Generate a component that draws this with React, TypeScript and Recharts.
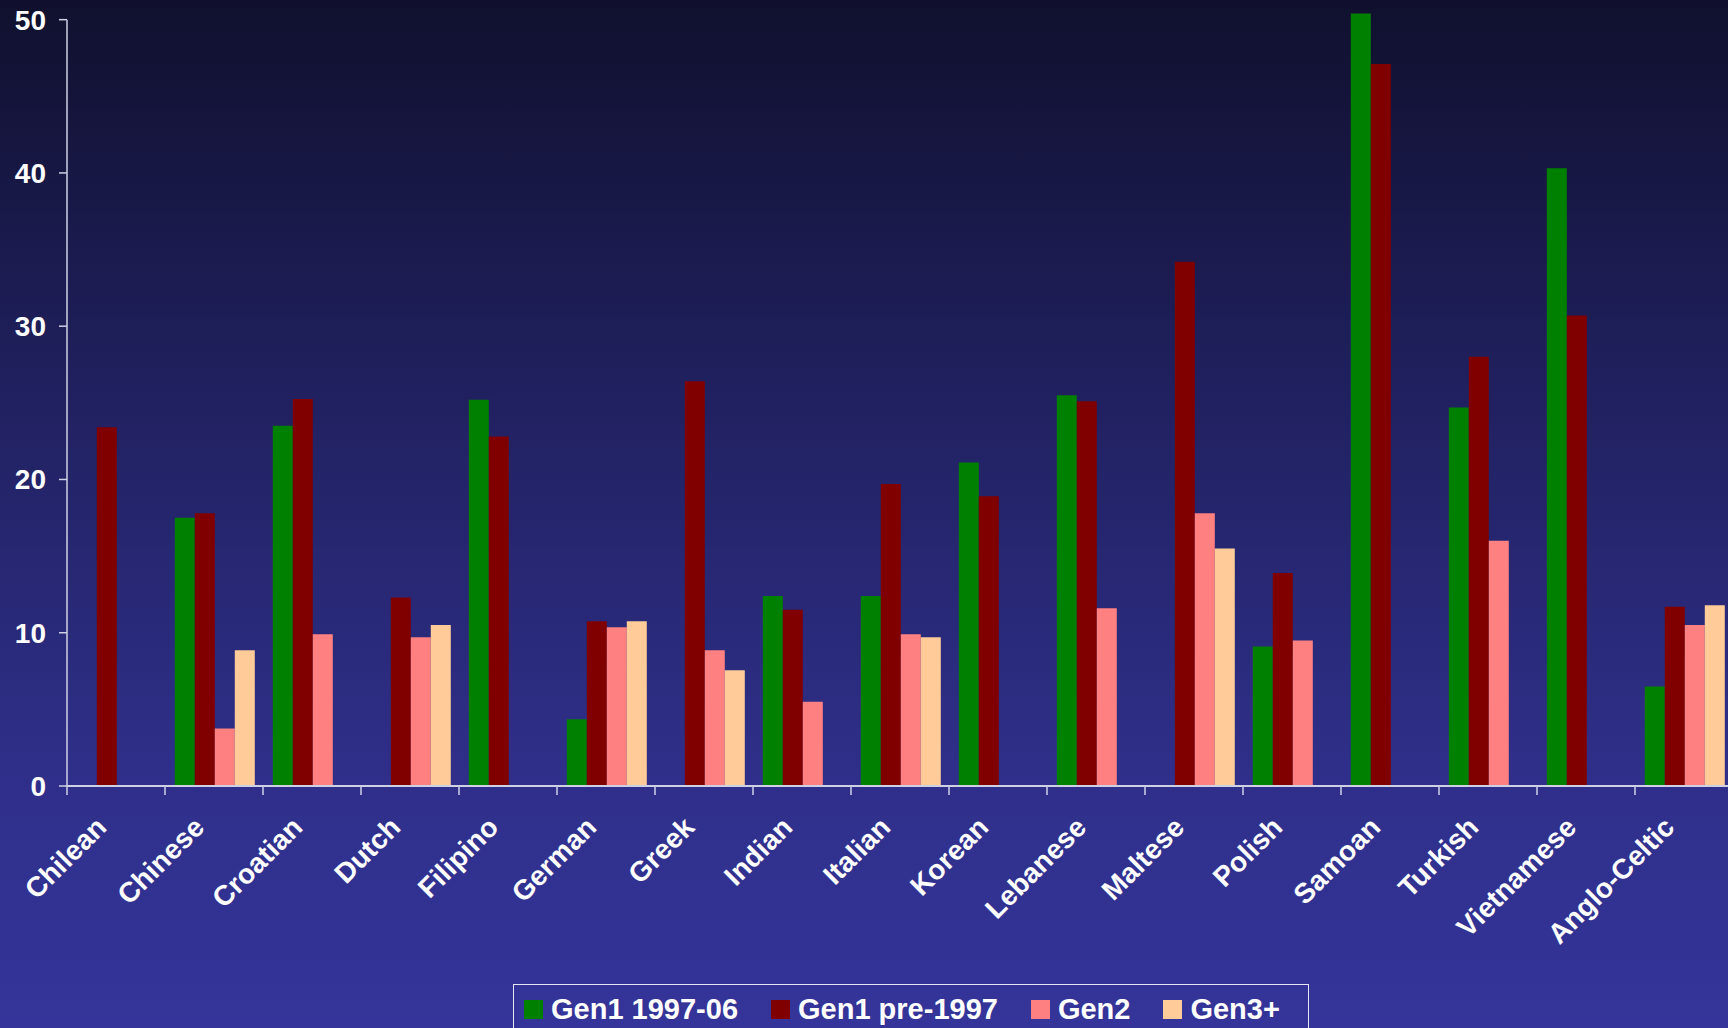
import React from "react";
import { BarChart, Bar, XAxis, YAxis, Legend, ReferenceLine } from "recharts";

// groups along the x axis
const groups = [
  "Chilean",
  "Chinese",
  "Croatian",
  "Dutch",
  "Filipino",
  "German",
  "Greek",
  "Indian",
  "Italian",
  "Korean",
  "Lebanese",
  "Maltese",
  "Polish",
  "Samoan",
  "Turkish",
  "Vietnamese",
  "Anglo-Celtic",
];

// null = no bar for that group
const gen1Recent = [null, 17.5, 23.5, null, 25.2, 4.35, null, 12.4, 12.4, 21.1, 25.5, null, 9.1, 50.4, 24.7, 40.3, 6.5];
const gen1Pre = [23.4, 17.8, 25.25, 12.3, 22.8, 10.75, 26.4, 11.5, 19.7, 18.9, 25.1, 34.2, 13.9, 47.1, 28.0, 30.7, 11.7];
const gen2 = [null, 3.75, 9.9, 9.7, null, 10.35, 8.85, 5.5, 9.9, null, 11.6, 17.8, 9.5, null, 16.0, null, 10.5];
const gen3 = [null, 8.85, null, 10.5, null, 10.75, 7.55, null, 9.7, null, null, 15.5, null, null, null, null, 11.8];

const yTicks = [0, 10, 20, 30, 40, 50];

const seriesNames = ["Gen1 1997-06", "Gen1 pre-1997", "Gen2", "Gen3+"];
const seriesColors = ["#008000", "#800000", "#ff8080", "#ffcc99"];

const rows = groups.map((group, i) => ({
  group,
  gen1Recent: gen1Recent[i],
  gen1Pre: gen1Pre[i],
  gen2: gen2[i],
  gen3: gen3[i],
}));

const WIDTH = 1728;
const HEIGHT = 1028;
// the last group runs slightly past the right edge of the frame
const CHART_WIDTH = 1733;
const PLOT_LEFT = 67;
const BAND = (CHART_WIDTH - PLOT_LEFT) / groups.length;
const FONT = "'Liberation Sans', Arial, Helvetica, sans-serif";
const AXIS = "#cfd0e4";

function GroupTick(props: any) {
  const { x, y, payload } = props;
  const edge = x - BAND / 2;
  const tx = x - 8;
  const ty = y + 43;
  return (
    <g>
      <line x1={edge} x2={edge} y1={y} y2={y + 9} stroke={AXIS} strokeWidth={1.5} />
      <text
        x={tx}
        y={ty}
        transform={`rotate(-45 ${tx} ${ty})`}
        textAnchor="end"
        fill="#ffffff"
        fontSize={28}
        fontWeight="bold"
        fontFamily={FONT}
      >
        {payload.value}
      </text>
    </g>
  );
}

function LegendBox(props: any) {
  const { payload = [] } = props;
  return (
    <div
      style={{
        boxSizing: "border-box",
        width: 796,
        height: 46,
        border: "1.5px solid #e6e6f2",
        borderBottom: "none",
        display: "flex",
        alignItems: "flex-start",
        paddingLeft: 10,
        paddingTop: 10,
        gap: 33,
        fontFamily: FONT,
        fontWeight: "bold",
        fontSize: 29,
        color: "#ffffff",
        lineHeight: "29px",
      }}
    >
      {payload.map((item: any) => (
        <div key={item.value} style={{ display: "flex", alignItems: "center", gap: 8 }}>
          <span style={{ width: 19, height: 19, background: item.color, display: "inline-block" }} />
          <span>{item.value}</span>
        </div>
      ))}
    </div>
  );
}

export default function App() {
  return (
    <div
      style={{
        position: "absolute",
        left: 0,
        top: 0,
        width: WIDTH,
        height: HEIGHT,
        overflow: "hidden",
        background: "linear-gradient(to bottom, #10102e 0%, #1f1f5c 35%, #2f2f8a 75%, #34349a 100%)",
      }}
    >
      <BarChart
        width={CHART_WIDTH}
        height={HEIGHT}
        data={rows}
        margin={{ top: 12, right: 0, bottom: 0, left: 0 }}
        barCategoryGap="10%"
        barGap={0}
      >
        <XAxis
          dataKey="group"
          interval={0}
          height={242}
          tickSize={0}
          tickMargin={0}
          tickLine={false}
          axisLine={{ stroke: AXIS, strokeWidth: 2 }}
          tick={<GroupTick />}
        />
        <YAxis
          width={67}
          domain={[0, 50.5]}
          ticks={yTicks}
          interval={0}
          tickSize={8}
          tickMargin={13}
          axisLine={false}
          tickLine={{ stroke: AXIS, strokeWidth: 1.5 }}
          tick={{ fill: "#ffffff", fontSize: 28, fontWeight: "bold", fontFamily: FONT }}
        />
        <ReferenceLine
          segment={[
            { x: groups[0], y: 0 },
            { x: groups[0], y: 50 },
          ]}
          position="start"
          stroke={AXIS}
          strokeWidth={1.5}
        />
        <Legend
          layout="horizontal"
          verticalAlign="middle"
          align="center"
          content={<LegendBox />}
          wrapperStyle={{ left: 513, top: 984, width: 796 }}
        />
        <Bar dataKey="gen1Recent" name={seriesNames[0]} fill={seriesColors[0]} isAnimationActive={false} />
        <Bar dataKey="gen1Pre" name={seriesNames[1]} fill={seriesColors[1]} isAnimationActive={false} />
        <Bar dataKey="gen2" name={seriesNames[2]} fill={seriesColors[2]} isAnimationActive={false} />
        <Bar dataKey="gen3" name={seriesNames[3]} fill={seriesColors[3]} isAnimationActive={false} />
      </BarChart>
    </div>
  );
}
